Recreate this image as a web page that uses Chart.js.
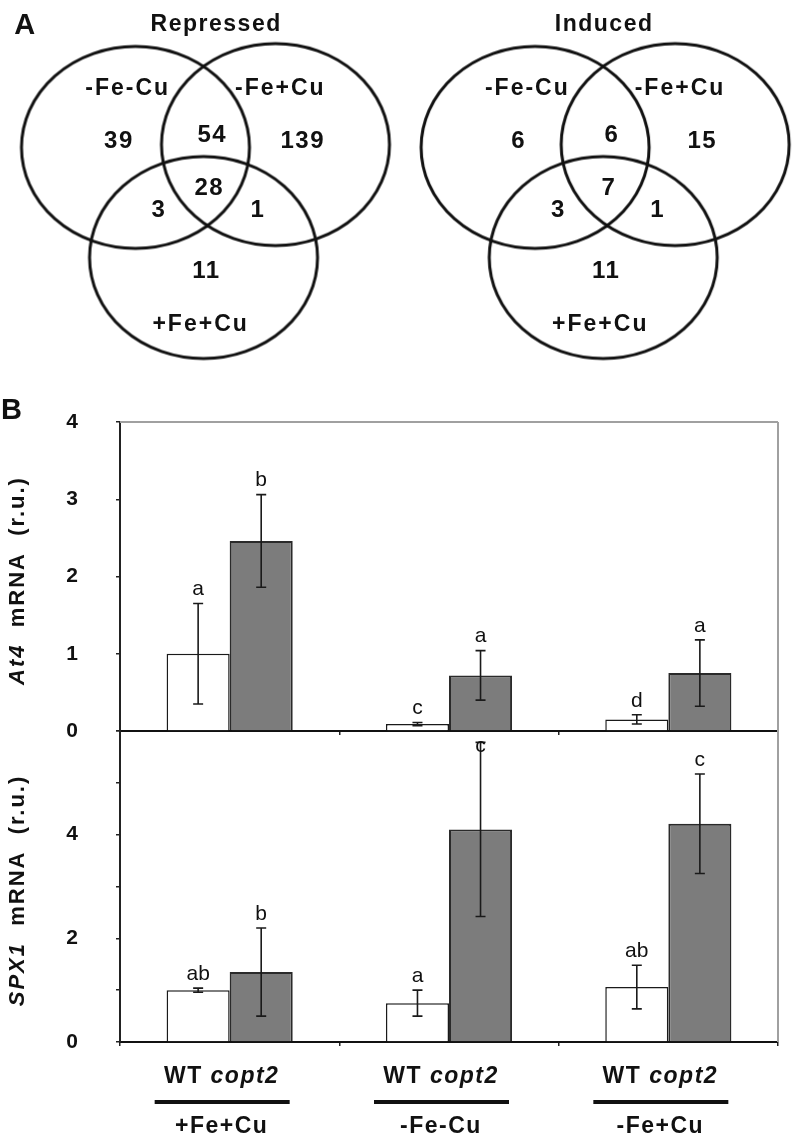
<!DOCTYPE html>
<html>
<head>
<meta charset="utf-8">
<script src="https://cdn.jsdelivr.net/npm/chart.js@4"></script>
<style>
  body { margin: 0; background: #fff; width: 797px; height: 1139px; position: relative; overflow: hidden; }
  canvas { position: absolute; left: 0; }
</style>
</head>
<body>
<canvas id="venn" width="797" height="372" style="top:0"></canvas>
<canvas id="at4" width="797" height="370" style="top:380px"></canvas>
<canvas id="spx1" width="797" height="439" style="top:700px"></canvas>
<script>
// ---- panel A data ----
const setNames = ['-Fe-Cu', '-Fe+Cu', '+Fe+Cu'];
const vennTitles = ['Repressed', 'Induced'];
// regions: FeCu only, FeCu&Fe+Cu, Fe+Cu only, FeCu&+Fe+Cu, all three, Fe+Cu&+Fe+Cu, +Fe+Cu only
const repressedCounts = [39, 54, 139, 3, 28, 1, 11];
const inducedCounts = [6, 6, 15, 3, 7, 1, 11];

// layout of one diagram (left one), the second is shifted to the right
const regionX = [111, 207, 300, 152, 204, 254, 201];
const regionY = [139, 132, 139, 212, 189, 212, 277];
const setLabelX = [120, 277, 195];
const setLabelY = [83, 83, 333];
const circleX = [128, 272, 198];
const circleY = [145, 142, 262];
const vennShift = 411;

// ---- panel B data ----
const conditions = ['+Fe+Cu', '-Fe-Cu', '-Fe+Cu'];
const wtAt4 = [1.0, 0.09, 0.15];
const copt2At4 = [2.46, 0.72, 0.75];
const wtAt4Err = [0.65, 0.02, 0.06];
const copt2At4Err = [0.6, 0.32, 0.43];
const wtAt4Letters = ['a', 'c', 'd'];
const copt2At4Letters = ['b', 'a', 'a'];

const wtSpx1 = [1.0, 0.75, 1.06];
const copt2Spx1 = [1.35, 4.1, 4.21];
const wtSpx1Err = [0.04, 0.25, 0.42];
const copt2Spx1Err = [0.85, 1.68, 0.96];
const wtSpx1Letters = ['ab', 'a', 'ab'];
const copt2Spx1Letters = ['b', 'c', 'c'];

const FONT = "'Liberation Sans', Arial, Helvetica, sans-serif";
Chart.defaults.font.family = FONT;
Chart.defaults.color = '#111';

function spaced(ctx, px) {
  if ('letterSpacing' in ctx) ctx.letterSpacing = px + 'px';
}

// ---------------- Venn diagrams ----------------
const ellipse = document.createElement('canvas');
ellipse.width = 234;
ellipse.height = 208;
(function () {
  const c = ellipse.getContext('2d');
  c.lineWidth = 3;
  c.strokeStyle = '#111';
  c.beginPath();
  c.ellipse(117, 104, 114, 101, 0, 0, Math.PI * 2);
  c.stroke();
})();

const circlePts = [];
const countPts = [];
const setPts = [];
for (let d = 0; d < 2; d++) {
  for (let i = 0; i < 3; i++) {
    circlePts.push({ x: circleX[i] + d * vennShift, y: circleY[i] });
    setPts.push({ x: setLabelX[i] + d * vennShift, y: setLabelY[i] });
  }
  for (let i = 0; i < regionX.length; i++) {
    countPts.push({ x: regionX[i] + d * vennShift, y: regionY[i] });
  }
}

const textPoints = {
  id: 'textPoints',
  afterDatasetsDraw(chart) {
    const ctx = chart.ctx;
    chart.data.datasets.forEach((ds, i) => {
      if (!ds.texts) return;
      const meta = chart.getDatasetMeta(i);
      ctx.save();
      ctx.font = ds.textFont;
      ctx.fillStyle = '#111';
      ctx.textAlign = 'center';
      ctx.textBaseline = 'middle';
      spaced(ctx, ds.spacing || 0);
      meta.data.forEach((pt, j) => ctx.fillText(String(ds.texts[j]), pt.x, pt.y));
      ctx.restore();
    });
  }
};

new Chart(document.getElementById('venn'), {
  type: 'scatter',
  data: {
    datasets: [
      { data: circlePts, pointStyle: ellipse, pointRadius: 10, clip: false },
      { data: countPts, pointRadius: 0, texts: repressedCounts.concat(inducedCounts),
        textFont: 'bold 24px ' + FONT, spacing: 1.5 },
      { data: setPts, pointRadius: 0, texts: setNames.concat(setNames),
        textFont: 'bold 23px ' + FONT, spacing: 2 },
      { data: [{ x: 211, y: 14 }, { x: 610, y: 14 }], pointRadius: 0, texts: vennTitles,
        textFont: 'bold 23px ' + FONT, spacing: 1.5 },
      { data: [{ x: 14, y: 16 }], pointRadius: 0, texts: ['A'], textFont: 'bold 29px ' + FONT }
    ]
  },
  options: {
    responsive: false,
    animation: false,
    events: [],
    layout: { padding: 0 },
    plugins: { legend: { display: false }, tooltip: { enabled: false } },
    scales: {
      x: { type: 'linear', min: 0, max: 797, display: false },
      y: { type: 'linear', min: 0, max: 372, reverse: true, display: false }
    }
  },
  plugins: [textPoints]
});

// ---------------- bar charts ----------------
const errorBars = {
  id: 'errorBars',
  afterDatasetsDraw(chart) {
    const ctx = chart.ctx;
    const y = chart.scales.y;
    const area = chart.chartArea;
    chart.data.datasets.forEach((ds, i) => {
      const meta = chart.getDatasetMeta(i);
      meta.data.forEach((bar, j) => {
        const v = ds.data[j], e = ds.errors[j];
        const top = y.getPixelForValue(v + e);
        const bot = y.getPixelForValue(Math.max(v - e, 0));
        ctx.save();
        ctx.strokeStyle = '#1a1a1a';
        ctx.lineWidth = 1.6;
        ctx.beginPath();
        ctx.moveTo(bar.x, Math.max(top, area.top));
        ctx.lineTo(bar.x, bot);
        if (top >= area.top) { ctx.moveTo(bar.x - 5, top); ctx.lineTo(bar.x + 5, top); }
        ctx.moveTo(bar.x - 5, bot);
        ctx.lineTo(bar.x + 5, bot);
        ctx.stroke();
        ctx.font = '21px ' + FONT;
        ctx.fillStyle = '#111';
        ctx.textAlign = 'center';
        ctx.textBaseline = 'middle';
        ctx.fillText(ds.letters[j], bar.x, Math.max(top - 14, area.top + 15));
        ctx.restore();
      });
    });
  }
};

const frame = {
  id: 'frame',
  beforeDatasetsDraw(chart, args, opts) {
    const { left, right, top, bottom } = chart.chartArea;
    const ctx = chart.ctx;
    ctx.save();
    ctx.strokeStyle = '#a0a0a0';
    ctx.lineWidth = 2;
    ctx.beginPath();
    if (opts.top) { ctx.moveTo(left, top); ctx.lineTo(right, top); }
    ctx.moveTo(right, top);
    ctx.lineTo(right, bottom);
    ctx.stroke();
    ctx.restore();
  }
};

function drawParts(ctx, parts, cx, cy) {
  let total = 0;
  parts.forEach(p => { ctx.font = p.font; p.w = ctx.measureText(p.t).width; total += p.w; });
  let x = cx - total / 2;
  parts.forEach(p => { ctx.font = p.font; ctx.fillText(p.t, x, cy); x += p.w; });
}

const sideText = {
  id: 'sideText',
  afterDraw(chart, args, opts) {
    const ctx = chart.ctx;
    const { top, bottom } = chart.chartArea;
    ctx.save();
    ctx.fillStyle = '#111';
    ctx.textAlign = 'left';
    ctx.textBaseline = 'middle';
    spaced(ctx, 2);
    ctx.translate(18, (top + bottom) / 2 + 4);
    ctx.rotate(-Math.PI / 2);
    drawParts(ctx, [
      { t: opts.gene, font: 'italic bold 22px ' + FONT },
      { t: '  mRNA  (r.u.)', font: 'bold 22px ' + FONT }
    ], 0, 0);
    ctx.restore();
    if (opts.panel) {
      ctx.save();
      ctx.font = 'bold 29px ' + FONT;
      ctx.fillStyle = '#111';
      ctx.textBaseline = 'middle';
      ctx.fillText(opts.panel, 1, 31);
      ctx.restore();
    }
    if (opts.xLabels) {
      const xs = chart.scales.x;
      const base = chart.chartArea.bottom;
      ctx.save();
      ctx.fillStyle = '#111';
      ctx.strokeStyle = '#111';
      ctx.textAlign = 'left';
      ctx.textBaseline = 'middle';
      spaced(ctx, 1.5);
      conditions.forEach((c, i) => {
        const cx = xs.getPixelForValue(i) - 8;
        drawParts(ctx, [
          { t: 'WT ', font: 'bold 23px ' + FONT },
          { t: 'copt2', font: 'italic bold 23px ' + FONT }
        ], cx, base + 35);
        ctx.lineWidth = 4;
        ctx.beginPath();
        ctx.moveTo(cx - 67, base + 60);
        ctx.lineTo(cx + 68, base + 60);
        ctx.stroke();
        drawParts(ctx, [{ t: c, font: 'bold 23px ' + FONT }], cx, base + 85);
      });
      ctx.restore();
    }
  }
};

function barChart(id, wt, copt2, wtErr, copt2Err, wtLet, copt2Let, yMax, tickLabel, pad, opts) {
  return new Chart(document.getElementById(id), {
    type: 'bar',
    data: {
      labels: conditions,
      datasets: [
        { label: 'WT', data: wt, errors: wtErr, letters: wtLet,
          backgroundColor: '#ffffff', borderColor: '#1a1a1a', borderWidth: 1.5,
          categoryPercentage: 0.575, barPercentage: 1 },
        { label: 'copt2', data: copt2, errors: copt2Err, letters: copt2Let,
          backgroundColor: '#7c7c7c', borderColor: '#2a2a2a', borderWidth: 2,
          categoryPercentage: 0.575, barPercentage: 1 }
      ]
    },
    options: {
      responsive: false,
      animation: false,
      events: [],
      layout: { padding: pad },
      plugins: {
        legend: { display: false },
        tooltip: { enabled: false },
        frame: { top: opts.frameTop },
        sideText: opts
      },
      scales: {
        x: {
          offset: true,
          grid: { offset: true, drawOnChartArea: false, tickLength: 4, color: '#222', lineWidth: 1.5 },
          border: { color: '#111', width: 2 },
          ticks: { display: false },
          afterFit: s => { s.height = 6; }
        },
        y: {
          min: 0,
          max: yMax,
          ticks: { stepSize: 1, padding: 38, font: { size: 21, weight: 'bold' }, color: '#111',
                   callback: tickLabel },
          grid: { drawOnChartArea: false, tickLength: 4, color: '#222', lineWidth: 1.5 },
          border: { color: '#222', width: 2 },
          afterFit: s => { s.width = 120; s.paddingTop = 12; s.paddingBottom = 12; }
        }
      }
    },
    plugins: [frame, errorBars, sideText]
  });
}

barChart('at4', wtAt4, copt2At4, wtAt4Err, copt2At4Err, wtAt4Letters, copt2At4Letters, 4,
  v => v, { top: 42, bottom: 13, left: 0, right: 19 },
  { gene: 'At4', panel: 'B', frameTop: true });

barChart('spx1', wtSpx1, copt2Spx1, wtSpx1Err, copt2Spx1Err, wtSpx1Letters, copt2Spx1Letters, 6,
  v => (v % 2 === 0 && v < 6) ? v : '', { top: 31, bottom: 91, left: 0, right: 19 },
  { gene: 'SPX1', xLabels: true, frameTop: false });
</script>
</body>
</html>
